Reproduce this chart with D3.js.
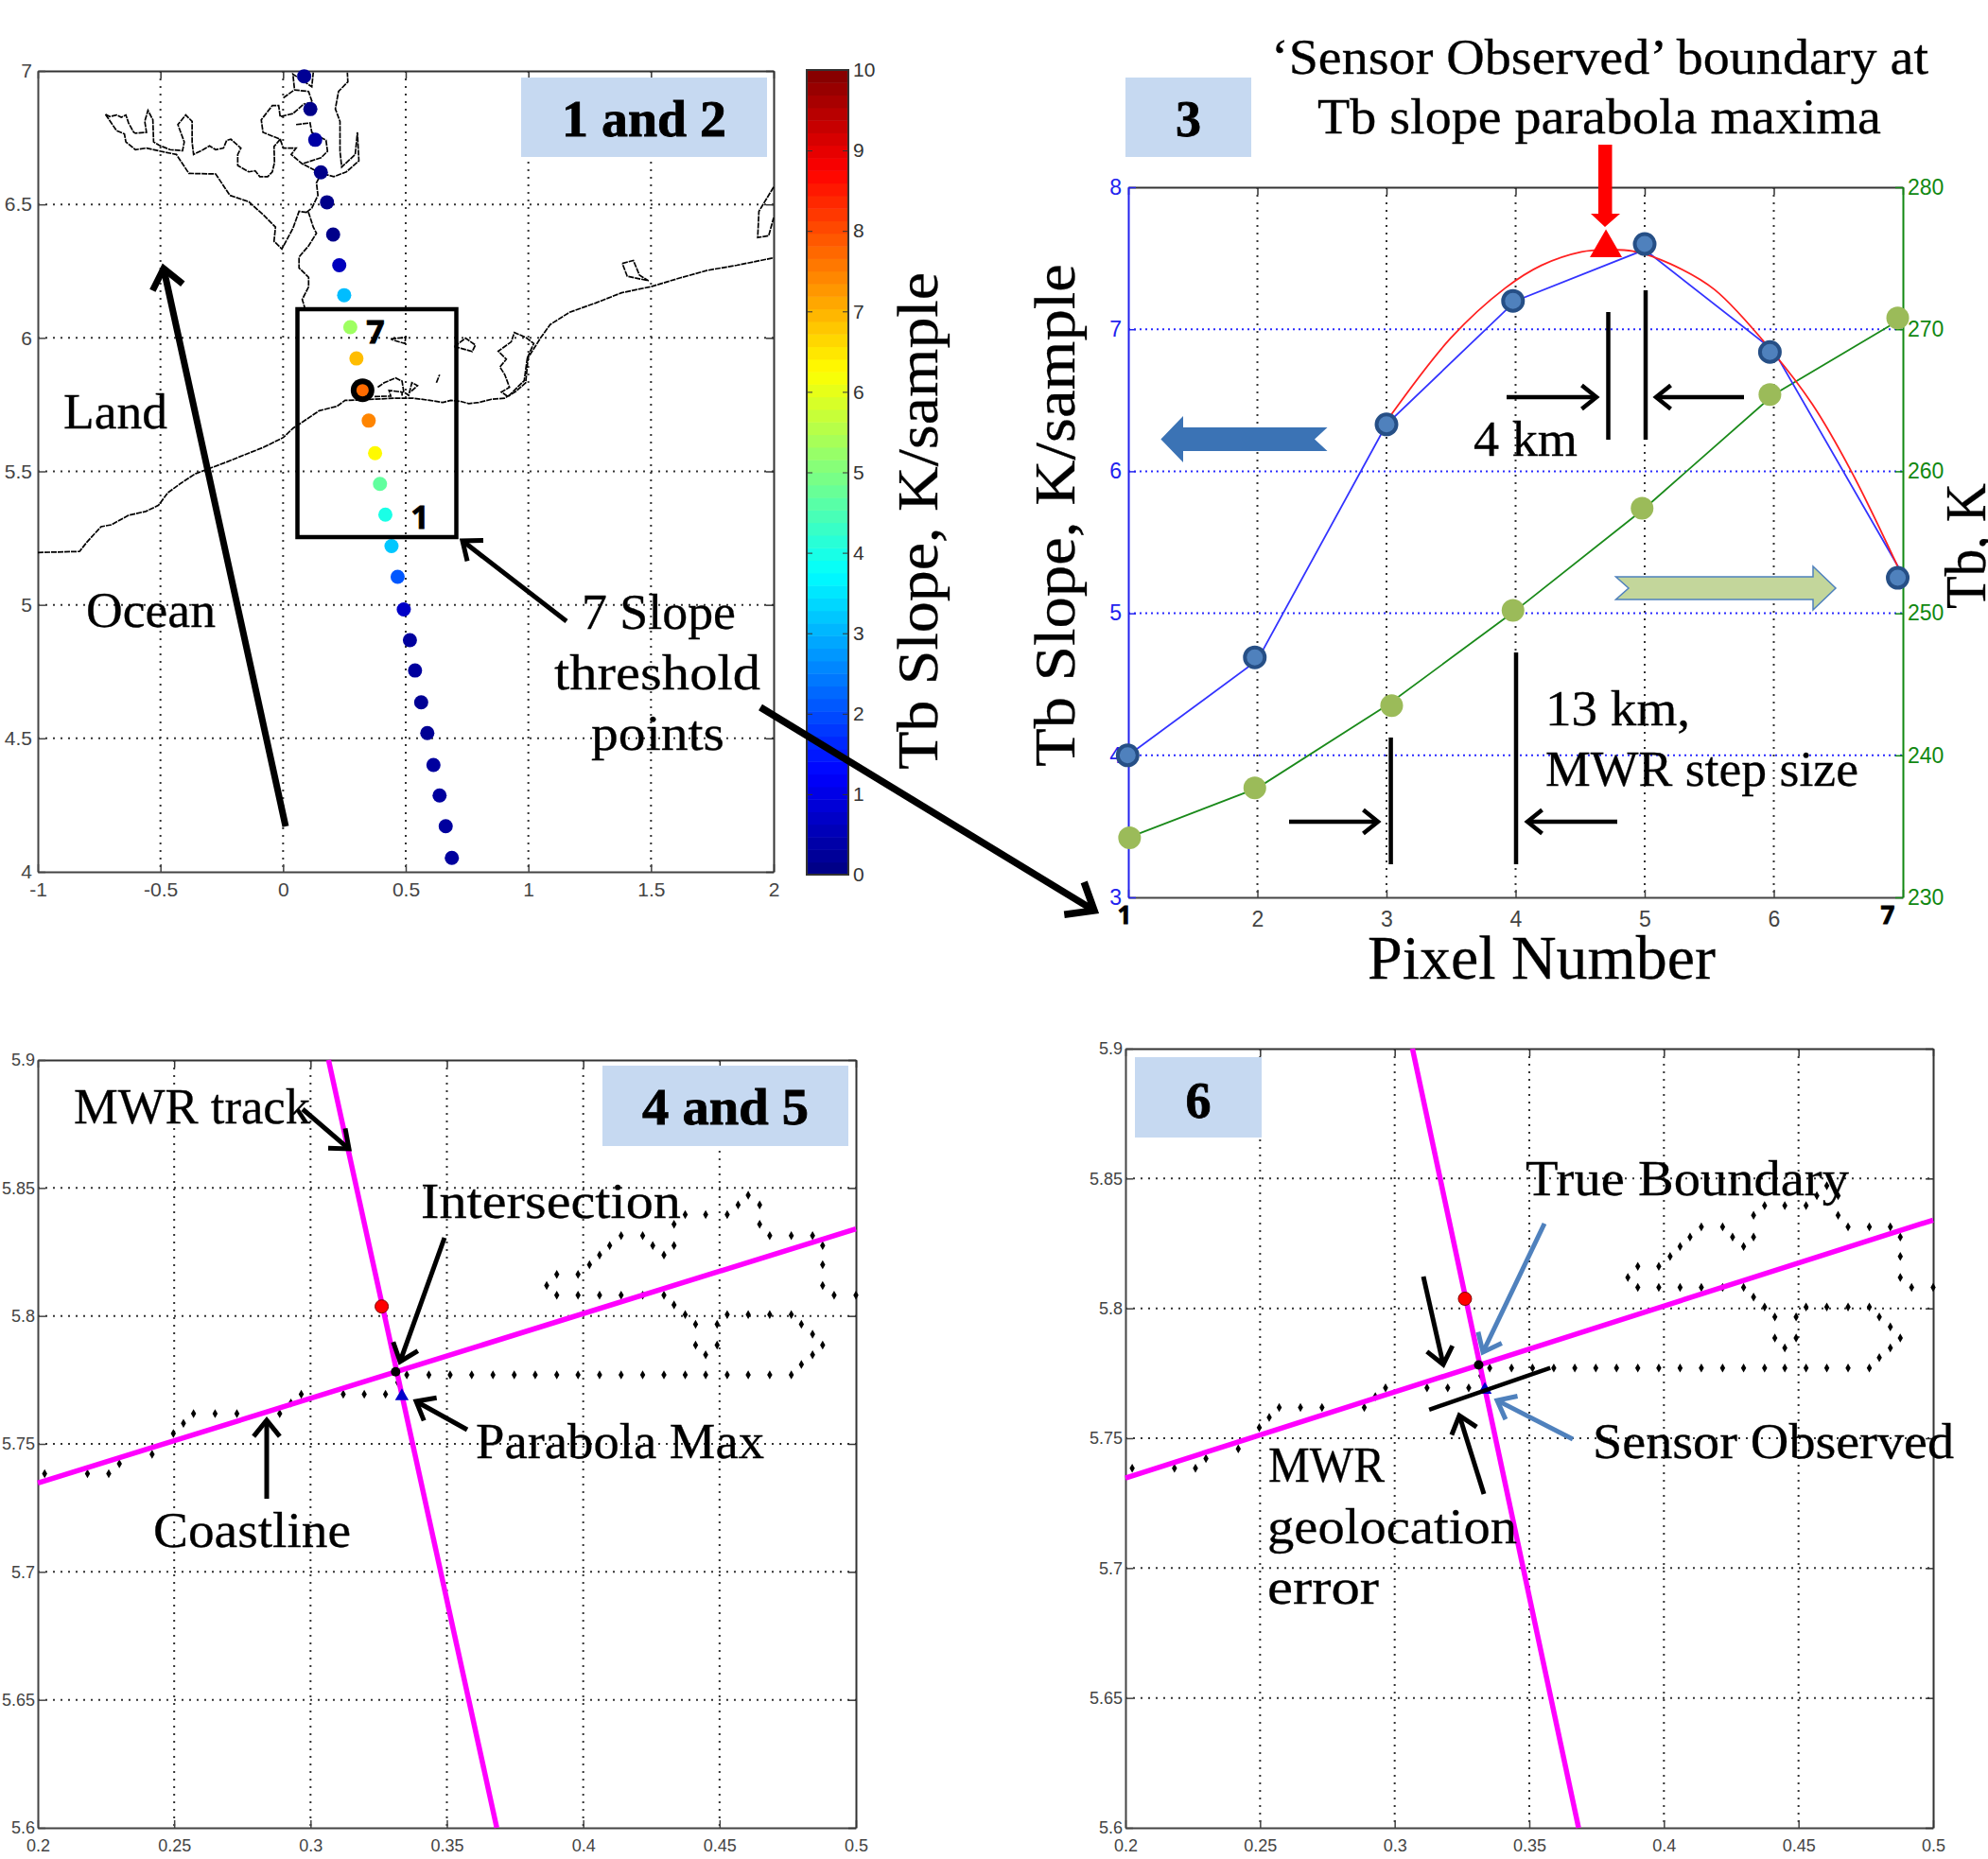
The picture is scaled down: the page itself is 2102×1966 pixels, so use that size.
<!DOCTYPE html>
<html>
<head>
<meta charset="utf-8">
<script src="https://cdn.jsdelivr.net/npm/d3@7"></script>
<style>
  body { margin: 0; background: #fff; overflow: hidden; }
  svg { display: block; }
  .tick text { font-family: "Liberation Sans", sans-serif; }
</style>
</head>
<body>
<svg id="chart" width="2102" height="1966"></svg>
<script>
// Panel 1: MWR track samples (lon, lat, Tb slope)
const trackLon = [0.086,0.111,0.131,0.154,0.179,0.204,0.229,0.249,0.274,0.299,0.324,0.349,0.375,0.395,0.417,0.442,0.467,0.492,0.517,0.538,0.563,0.588,0.613,0.638,0.663,0.688];
const trackLat = [6.98,6.857,6.742,6.62,6.508,6.387,6.272,6.16,6.04,5.923,5.804,5.69,5.568,5.453,5.338,5.22,5.105,4.983,4.868,4.754,4.635,4.52,4.40,4.286,4.171,4.052];
const trackSlope = [0.2,0.1,0.35,0.1,0.1,0.1,0.6,3.1,5.3,6.9,7.7,7.45,6.3,4.7,4.0,3.2,2.1,0.7,0.3,0.3,0.2,0.2,0.3,0.3,0.3,0.3];

// Panel 1: coastline, [lon, lat]
const mainCoast = [[-1,5.196],[-0.83,5.2],[-0.8,5.235],[-0.742,5.293],[-0.7,5.3],[-0.629,5.336],[-0.56,5.35],[-0.508,5.373],[-0.47,5.42],[-0.416,5.456],[-0.36,5.49],[-0.303,5.51],[-0.23,5.535],[-0.152,5.564],[-0.08,5.59],[0.001,5.627],[0.041,5.662],[0.081,5.686],[0.147,5.727],[0.22,5.744],[0.253,5.766],[0.32,5.768],[0.452,5.774],[0.532,5.774],[0.598,5.766],[0.651,5.758],[0.684,5.766],[0.724,5.762],[0.757,5.754],[0.797,5.758],[0.85,5.77],[0.903,5.774],[0.95,5.8],[0.989,5.832],[0.999,5.926],[1.05,6.0],[1.089,6.05],[1.168,6.096],[1.275,6.131],[1.38,6.169],[1.5,6.192],[1.62,6.225],[1.73,6.253],[1.85,6.272],[2,6.3]];
const lakeTop = [[-0.724,6.837],[-0.707,6.829],[-0.679,6.835],[-0.66,6.826],[-0.641,6.835],[-0.63,6.805],[-0.609,6.77],[-0.602,6.767],[-0.557,6.77],[-0.564,6.811],[-0.551,6.852],[-0.531,6.817],[-0.528,6.734],[-0.506,6.722],[-0.461,6.705],[-0.41,6.701],[-0.403,6.734],[-0.429,6.799],[-0.397,6.835],[-0.371,6.811],[-0.371,6.734],[-0.365,6.687],[-0.326,6.705],[-0.3,6.719],[-0.275,6.705],[-0.243,6.711],[-0.23,6.74],[-0.213,6.744],[-0.172,6.711],[-0.185,6.687],[-0.185,6.646],[-0.14,6.622],[-0.114,6.626],[-0.095,6.604],[-0.063,6.604],[-0.044,6.622],[-0.035,6.657],[-0.037,6.717],[-0.012,6.744],[-0.082,6.77],[-0.089,6.817],[-0.044,6.87],[-0.018,6.87],[-0.012,6.829],[0.04,6.84],[0.085,6.876]];
const lakeBottom = [[-0.724,6.837],[-0.679,6.776],[-0.647,6.764],[-0.641,6.734],[-0.602,6.705],[-0.557,6.711],[-0.499,6.699],[-0.435,6.687],[-0.384,6.616],[-0.275,6.614],[-0.217,6.534],[-0.14,6.51],[-0.076,6.457],[-0.031,6.415],[-0.037,6.362],[-0.005,6.333],[0.04,6.41],[0.065,6.474],[0.104,6.469],[0.123,6.415],[0.136,6.392],[0.104,6.345],[0.065,6.303],[0.065,6.262],[0.104,6.227],[0.104,6.191],[0.078,6.144],[0.088,6.114]];
const riverEast = [[0.095,6.47],[0.117,6.486],[0.142,6.534],[0.136,6.581],[0.155,6.616],[0.207,6.604],[0.258,6.622],[0.309,6.663],[0.303,6.77],[0.294,6.687],[0.239,6.64],[0.232,6.699],[0.232,6.811],[0.213,6.858],[0.226,6.923],[0.264,6.959],[0.262,6.994]];
const riverLoop1 = [[0.155,6.616],[0.078,6.652],[0.033,6.687],[0.053,6.711],[0.001,6.711],[-0.012,6.744]];
const riverLoop2 = [[0.053,6.799],[0.11,6.805],[0.117,6.77],[0.175,6.74],[0.181,6.699],[0.155,6.675],[0.078,6.652]];
const riverLoop3 = [[0.001,6.899],[0.046,6.929],[0.104,6.923],[0.119,6.882],[0.085,6.876]];
const riverLoop4 = [[0.046,6.935],[0.04,6.988],[0.117,6.941],[0.123,6.994]];
const lagoon1 = [[0.386,5.815],[0.412,5.832],[0.459,5.85],[0.485,5.838],[0.492,5.797],[0.512,5.785],[0.525,5.832],[0.548,5.821],[0.519,5.797]];
const lagoon2 = [[0.373,5.78],[0.439,5.782],[0.432,5.803],[0.485,5.797],[0.485,5.78]];
const islet1 = [[0.439,5.996],[0.5,6.002],[0.496,5.979],[0.452,5.991],[0.439,5.996]];
const islet2 = [[0.698,5.967],[0.744,5.999],[0.784,5.973],[0.771,5.949],[0.725,5.961],[0.698,5.967]];
const islet3 = [[0.625,5.832],[0.638,5.862]];
const bayLagoon = [[0.996,5.926],[1.022,5.979],[0.989,6.002],[0.943,6.02],[0.93,5.985],[0.877,5.95],[0.91,5.92],[0.884,5.891],[0.904,5.862],[0.923,5.815],[0.89,5.797],[0.917,5.78],[0.983,5.84],[0.996,5.926]];
const eastIsland = [[1.383,6.279],[1.428,6.29],[1.453,6.235],[1.49,6.214],[1.403,6.231],[1.383,6.279]];
const edgeIsland = [[2,6.565],[1.94,6.474],[1.935,6.376],[1.98,6.383],[2,6.45]];
const mapCoasts = [mainCoast, lakeTop, lakeBottom, riverEast, riverLoop1, riverLoop2, riverLoop3, riverLoop4, lagoon1, lagoon2, islet1, islet2, islet3, bayLagoon, eastIsland, edgeIsland];

const mapLonTicks = [-1,-0.5,0,0.5,1,1.5,2];
const mapLatTicks = [4,4.5,5,5.5,6,6.5,7];
const colorbarTicks = [0,1,2,3,4,5,6,7,8,9,10];

// Panel 3: slope and Tb per pixel
const pixelTicks = [1,2,3,4,5,6,7];
const pixelTickLabels = ["","2","3","4","5","6",""]; // 1 and 7 are the bold overlay labels
const slopeTicks = [3,4,5,6,7,8];
const tbTicks = [230,240,250,260,270,280];
const slopeLine = [4.0,4.67,6.33,7.2,7.56,6.85,5.27];
const slopeMarkX = [0.995,1.98,3,3.98,5,5.97,6.96];
const slopeMarkY = [4.0,4.69,6.33,7.2,7.6,6.84,5.25];
const tbLine = [234.2,237.7,243.5,250.2,257.4,265.4,270.8];
const tbMarkX = [1.01,1.98,3.04,3.98,4.98,5.97,6.96];
const parabolaX = [3.03,3.5,3.92,4.2,4.51,4.7,4.91,5.2,5.54,6,6.3,6.6,6.96];
const parabolaY = [6.39,6.94,7.29,7.45,7.545,7.56,7.55,7.46,7.28,6.83,6.47,6.0,5.33];
const parabolaMax = [4.7, 7.56];

// Panels 4 and 6: zoomed coastline points [lon, lat]
const coastDots = [[0.2025,5.7384],[0.2182,5.7384],[0.226,5.7384],[0.2299,5.7422],[0.2419,5.7459],[0.2497,5.7541],[0.2534,5.758],[0.2571,5.7618],[0.265,5.7618],[0.273,5.7618],[0.2887,5.7618],[0.2928,5.766],[0.2966,5.7694],[0.312,5.7694],[0.3197,5.7694],[0.3275,5.7694],[0.332,5.774],
  [0.3353,5.777],[0.3434,5.777],[0.3512,5.777],[0.3591,5.777],[0.3669,5.777],[0.3747,5.777],[0.3824,5.777],[0.3903,5.777],[0.3981,5.777],[0.406,5.777],[0.4139,5.777],[0.4218,5.777],[0.4296,5.777],[0.4374,5.777],[0.4449,5.777],[0.4528,5.777],[0.4605,5.777],[0.4684,5.777],[0.4763,5.777],
  [0.48,5.781],[0.4841,5.7848],[0.4878,5.7886],[0.4841,5.7929],[0.48,5.7967],[0.4763,5.8005],[0.4684,5.8005],[0.4605,5.8005],[0.4528,5.8005],[0.4491,5.7967],[0.4491,5.7886],[0.4449,5.7848],[0.4412,5.7886],[0.4412,5.7967],[0.4374,5.8005],[0.4333,5.8043],[0.4296,5.8081],[0.4218,5.8081],[0.4139,5.8081],[0.406,5.8081],[0.3981,5.8081],[0.3903,5.8081],[0.3866,5.8119],[0.3903,5.8162],[0.3981,5.8162],
  [0.4023,5.82],[0.406,5.8238],[0.4097,5.8275],[0.4139,5.8314],[0.4218,5.8314],[0.4255,5.8275],[0.4296,5.8238],[0.4333,5.8275],[0.4333,5.8358],[0.4374,5.8396],[0.4449,5.8396],[0.4528,5.8396],[0.4568,5.8434],[0.4605,5.8472],[0.4647,5.8434],[0.4647,5.8358],[0.4684,5.8314],[0.4763,5.8314],[0.4841,5.8314],[0.4878,5.8275],[0.4878,5.82],[0.4878,5.8119],[0.492,5.8081],[0.5,5.8081]];
const coastFit = [[0.2,5.7347],[0.5,5.834]];
const mwrTrack = [[0.3066,5.9],[0.3683,5.6]];
const redPoint = [0.3261,5.8037];
const intersectionPoint = [0.3312,5.7782];
const parabolaPoint = [0.3335,5.7686];
const geolocationLine = [[0.3128,5.761],[0.3578,5.7771]];
const zoomLonTicks = [0.2,0.25,0.3,0.35,0.4,0.45,0.5];
const zoomLatTicks = [5.6,5.65,5.7,5.75,5.8,5.85,5.9];

const svg = d3.select("#chart");
const serif = '"Liberation Serif", serif';
const boxBlue = "#c6d9f1";

// Matlab jet, 0 to 10
const jet = d3.scaleLinear()
    .domain([0, 1.25, 3.75, 6.25, 8.75, 10])
    .range(["#000080", "#0000ff", "#00ffff", "#ffff00", "#ff0000", "#800000"])
    .interpolate(d3.interpolateRgb);

// Boxed axes with dotted grid, the way Matlab draws them
function makeFrame(o) {
    const g = svg.append("g");
    const x = d3.scaleLinear().domain(o.xDomain).range([o.left, o.right]);
    const y = d3.scaleLinear().domain(o.yDomain).range([o.bottom, o.top]);
    const fontSize = o.fontSize || 18;

    // grid
    g.selectAll(".gx").data(o.xTicks.slice(1, -1)).enter().append("line")
        .attr("x1", d => x(d)).attr("x2", d => x(d))
        .attr("y1", o.top).attr("y2", o.bottom)
        .attr("stroke", "#333").attr("stroke-width", 2).attr("stroke-dasharray", "2 6");
    g.selectAll(".gy").data(o.yTicks.slice(1, -1)).enter().append("line")
        .attr("x1", o.left).attr("x2", o.right)
        .attr("y1", d => y(d)).attr("y2", d => y(d))
        .attr("stroke", o.gridY || "#333").attr("stroke-width", 2).attr("stroke-dasharray", o.gridY ? "2 4" : "2 6");

    // axes
    const styleAxis = (sel, color) => {
        sel.select(".domain").attr("stroke", color).attr("stroke-width", 2);
        sel.selectAll(".tick line").attr("stroke", color).attr("stroke-width", 1.5);
        sel.selectAll(".tick text").attr("fill", color).style("font-size", fontSize + "px");
    };
    const inner = 8;
    g.append("g").attr("transform", `translate(0,${o.bottom})`)
        .call(d3.axisBottom(x).tickValues(o.xTicks).tickSize(-inner).tickSizeOuter(0).tickPadding(o.xPad || 10)
            .tickFormat((d, i) => o.xLabels ? o.xLabels[i] : String(d)))
        .call(s => styleAxis(s, "#444"));
    g.append("g").attr("transform", `translate(0,${o.top})`)
        .call(d3.axisTop(x).tickValues(o.xTicks).tickSize(-inner).tickSizeOuter(0).tickFormat(""))
        .call(s => styleAxis(s, "#333"));
    g.append("g").attr("transform", `translate(${o.left},0)`)
        .call(d3.axisLeft(y).tickValues(o.yTicks).tickSize(-inner).tickSizeOuter(0).tickPadding(o.yPad || 5).tickFormat(String))
        .call(s => styleAxis(s, o.leftColor || "#444"));
    if (o.yRightDomain) {
        const yr = d3.scaleLinear().domain(o.yRightDomain).range([o.bottom, o.top]);
        g.append("g").attr("transform", `translate(${o.right},0)`)
            .call(d3.axisRight(yr).tickValues(o.yRightTicks).tickSize(-inner).tickSizeOuter(0).tickPadding(5).tickFormat(String))
            .call(s => styleAxis(s, o.rightColor));
    } else {
        g.append("g").attr("transform", `translate(${o.right},0)`)
            .call(d3.axisRight(y).tickValues(o.yTicks).tickSize(-inner).tickSizeOuter(0).tickFormat(""))
            .call(s => styleAxis(s, "#333"));
    }
    return {g, x, y};
}

// Text squeezed to the width it has in the picture
function label(txt, x, baseline, width, size, opts) {
    opts = opts || {};
    const t = svg.append("text")
        .attr("x", x).attr("y", baseline)
        .attr("font-family", opts.family || serif)
        .attr("font-size", size)
        .attr("font-weight", opts.weight || "normal")
        .attr("fill", "#000")
        .attr("stroke", "#000").attr("stroke-width", opts.weight ? 0.8 : 0.3)
        .text(txt);
    if (width) t.attr("textLength", width).attr("lengthAdjust", "spacingAndGlyphs");
    if (opts.anchor) t.attr("text-anchor", opts.anchor);
    return t;
}

function rotatedLabel(txt, baselineX, startY, width, size) {
    svg.append("text")
        .attr("transform", `translate(${baselineX},${startY}) rotate(-90)`)
        .attr("font-family", serif).attr("font-size", size).attr("fill", "#000")
        .attr("stroke", "#000").attr("stroke-width", 0.3)
        .attr("textLength", width).attr("lengthAdjust", "spacingAndGlyphs")
        .text(txt);
}

function numberBox(txt, x0, x1, y0, y1, textWidth, baseline) {
    svg.append("rect").attr("x", x0).attr("y", y0).attr("width", x1 - x0).attr("height", y1 - y0).attr("fill", boxBlue);
    label(txt, (x0 + x1) / 2 - textWidth / 2, baseline, textWidth, 54, {weight: "bold"});
}

// Straight arrow with an open chevron head
function arrow(x0, y0, x1, y1, width, head, color) {
    color = color || "#000";
    const a = Math.atan2(y1 - y0, x1 - x0);
    const spread = 0.68;
    const hx = d => x1 - head * Math.cos(a + d);
    const hy = d => y1 - head * Math.sin(a + d);
    const g = svg.append("g").attr("fill", "none").attr("stroke", color).attr("stroke-width", width);
    g.append("line").attr("x1", x0).attr("y1", y0)
        .attr("x2", x1 - Math.cos(a) * width * 0.6).attr("y2", y1 - Math.sin(a) * width * 0.6);
    g.append("path").attr("stroke-linejoin", "miter")
        .attr("d", `M${hx(spread)},${hy(spread)}L${x1},${y1}L${hx(-spread)},${hy(-spread)}`);
}

function vbar(x, y0, y1) {
    svg.append("line").attr("x1", x).attr("x2", x).attr("y1", y0).attr("y2", y1)
        .attr("stroke", "#000").attr("stroke-width", 4.5);
}

// ---- Panel 1: map ----
const map = makeFrame({left: 40, right: 818, top: 75, bottom: 922,
    xDomain: [-1, 2], yDomain: [4, 7], xTicks: mapLonTicks, yTicks: mapLatTicks, fontSize: 21, xPad: 11, yPad: 6});
const coastPath = d3.line().x(d => map.x(d[0])).y(d => map.y(d[1]));
map.g.selectAll(".coast").data(mapCoasts).enter().append("path")
    .attr("d", coastPath).attr("fill", "none")
    .attr("stroke", "#000").attr("stroke-width", 1.7).attr("stroke-dasharray", "6 1");
map.g.append("circle").attr("cx", map.x(trackLon[10])).attr("cy", map.y(trackLat[10]))
    .attr("r", 12.5).attr("fill", "#000");
map.g.selectAll(".sample").data(trackLon).enter().append("circle")
    .attr("cx", d => map.x(d))
    .attr("cy", (d, i) => map.y(trackLat[i]))
    .attr("r", (d, i) => i === 10 ? 6.5 : 7.5)
    .attr("fill", (d, i) => jet(trackSlope[i]));

// colorbar, 64 flat bands
const barX = 853, barW = 44;
const barScale = d3.scaleLinear().domain([0, 10]).range([925, 74]);
const barG = svg.append("g");
barG.selectAll("rect").data(d3.range(64)).enter().append("rect")
    .attr("x", barX).attr("width", barW)
    .attr("y", d => barScale((d + 1) * 10 / 64))
    .attr("height", d => barScale(d * 10 / 64) - barScale((d + 1) * 10 / 64) + 0.5)
    .attr("fill", d => jet((d + 0.5) * 10 / 64));
barG.append("rect").attr("x", barX).attr("y", 74).attr("width", barW).attr("height", 851)
    .attr("fill", "none").attr("stroke", "#333").attr("stroke-width", 2);
barG.append("g").attr("transform", `translate(${barX + barW},0)`)
    .call(d3.axisRight(barScale).tickValues(colorbarTicks).tickSize(-6).tickSizeOuter(0).tickPadding(5).tickFormat(String))
    .call(s => { s.select(".domain").remove();
        s.selectAll(".tick line").attr("stroke", "#333");
        s.selectAll(".tick text").attr("fill", "#333").style("font-size", "21px"); });
barG.append("g").attr("transform", `translate(${barX},0)`)
    .call(d3.axisLeft(barScale).tickValues(colorbarTicks).tickSize(-6).tickSizeOuter(0).tickFormat(""))
    .call(s => { s.select(".domain").remove(); s.selectAll(".tick line").attr("stroke", "#333"); });

numberBox("1 and 2", 551, 811, 82, 166, 174, 144);
svg.append("rect").attr("x", 314.5).attr("y", 327).attr("width", 168).attr("height", 241)
    .attr("fill", "none").attr("stroke", "#000").attr("stroke-width", 4.5);
label("7", 397, 363, null, 34, {family: '"Open Sans", sans-serif', weight: "bold", anchor: "middle"});
label("1", 444, 559, null, 34, {family: '"Open Sans", sans-serif', weight: "bold", anchor: "middle"});
label("Land", 67, 453, 110, 52);
label("Ocean", 91, 663, 137, 52);
label("7 Slope", 615, 665, 163, 52);
label("threshold", 586, 729, 218, 52);
label("points", 625, 793, 141, 52);
rotatedLabel("Tb Slope, K/sample", 991, 814, 526, 62);
arrow(302, 874, 173, 284, 7, 26);
arrow(599, 657, 489, 572, 5, 22);

// ---- Panel 3: slope and Tb ----
const tbChart = makeFrame({left: 1193, right: 2012, top: 198, bottom: 949,
    xDomain: [1, 7], yDomain: [3, 8], xTicks: pixelTicks, xLabels: pixelTickLabels, yTicks: slopeTicks,
    leftColor: "#2222ee", gridY: "#2a2aff", fontSize: 23, xPad: 15, yPad: 7,
    yRightDomain: [230, 280], yRightTicks: tbTicks, rightColor: "#118811"});
const px = tbChart.x, py = tbChart.y;
const yTb = d3.scaleLinear().domain([230, 280]).range([949, 198]);
const g3 = tbChart.g;
g3.append("path").datum(tbLine)
    .attr("d", d3.line().x((d, i) => px(pixelTicks[i])).y(d => yTb(d)))
    .attr("fill", "none").attr("stroke", "#1a8a1a").attr("stroke-width", 1.8);
g3.append("path").datum(slopeLine)
    .attr("d", d3.line().x((d, i) => px(pixelTicks[i])).y(d => py(d)))
    .attr("fill", "none").attr("stroke", "#3333ff").attr("stroke-width", 1.8);
g3.append("path").datum(parabolaX)
    .attr("d", d3.line().x(d => px(d)).y((d, i) => py(parabolaY[i])).curve(d3.curveCatmullRom))
    .attr("fill", "none").attr("stroke", "#ff2020").attr("stroke-width", 1.8);
g3.selectAll(".tbMark").data(tbMarkX).enter().append("circle")
    .attr("cx", d => px(d)).attr("cy", (d, i) => yTb(tbLine[i])).attr("r", 12).attr("fill", "#9bbb59");
g3.selectAll(".slopeMark").data(slopeMarkX).enter().append("circle")
    .attr("cx", d => px(d)).attr("cy", (d, i) => py(slopeMarkY[i])).attr("r", 10.5)
    .attr("fill", "#4f81bd").attr("stroke", "#264f86").attr("stroke-width", 4);
// marker at the parabola maximum
g3.append("path")
    .attr("transform", `translate(${px(parabolaMax[0])},${py(parabolaMax[1]) - 2})`)
    .attr("d", d3.symbol(d3.symbolTriangle, 500)).attr("fill", "#ff0000");
// red pointer from the title
svg.append("path").attr("fill", "#ff0000")
    .attr("d", "M1690,153H1704.5V226H1713L1697,240L1682,226H1690Z");

numberBox("3", 1190, 1323, 82, 166, 27, 144);
label("\u2018Sensor Observed\u2019 boundary at", 1344, 78, 695, 52);
label("Tb slope parabola maxima", 1393, 141, 596, 52);
rotatedLabel("Tb Slope, K/sample", 1136, 811, 532, 62);
rotatedLabel("Tb, K", 2099, 644, 133, 62);
label("Pixel Number", 1446, 1035, 368, 66);
label("4 km", 1558, 482, 110, 52);
label("13 km,", 1634, 767, 153, 52);
label("MWR step size", 1634, 831, 331, 52);
label("1", 1189, 977, null, 26, {family: '"Open Sans", sans-serif', weight: "bold", anchor: "middle"});
label("7", 1996, 977, null, 26, {family: '"Open Sans", sans-serif', weight: "bold", anchor: "middle"});

vbar(1700.5, 330, 465);
vbar(1740, 307, 465);
arrow(1593, 420, 1688, 420, 4.5, 20);
arrow(1844, 420, 1751, 420, 4.5, 20);
vbar(1470.6, 780, 914);
vbar(1603, 690, 914);
arrow(1363, 869, 1457, 869, 4.5, 20);
arrow(1710, 869, 1615, 869, 4.5, 20);

// block arrows: left is slope axis, right is Tb axis
svg.append("path").attr("fill", "#3b73b5")
    .attr("d", "M1227.4,464.6L1251,440V452H1403.5L1390,464.6L1403.5,477H1251V489Z");
svg.append("path").attr("fill", "#c3d69b").attr("stroke", "#4f81bd").attr("stroke-width", 1.5)
    .attr("d", "M1708.5,610H1917V599L1941,622L1917,645V634H1708.5L1722,622Z");

// long arrow from the box on the map to panel 3
arrow(804, 748, 1157, 963, 7.5, 32);

// ---- Panels 4 and 6: zoomed crossing ----
function zoomPanel(o) {
    const p = makeFrame({left: o.left, right: o.right, top: o.top, bottom: o.bottom,
        xDomain: [0.2, 0.5], yDomain: [5.6, 5.9], xTicks: zoomLonTicks, yTicks: zoomLatTicks, fontSize: 18, xPad: 12, yPad: 3});
    p.g.selectAll(".dot").data(coastDots).enter().append("path")
        .attr("transform", d => `translate(${p.x(d[0])},${p.y(d[1])})`)
        .attr("d", d3.symbol(d3.symbolDiamond, 26)).attr("fill", "#000");
    const seg = d3.line().x(d => p.x(d[0])).y(d => p.y(d[1]));
    p.g.selectAll(".mag").data([coastFit, mwrTrack]).enter().append("path")
        .attr("d", seg).attr("fill", "none").attr("stroke", "#ff00ff").attr("stroke-width", 5.5);
    p.g.append("circle").attr("cx", p.x(redPoint[0])).attr("cy", p.y(redPoint[1])).attr("r", 7)
        .attr("fill", "#ff0000").attr("stroke", "#800000").attr("stroke-width", 1);
    p.g.append("path")
        .attr("transform", `translate(${p.x(parabolaPoint[0])},${p.y(parabolaPoint[1])})`)
        .attr("d", d3.symbol(d3.symbolTriangle, 90)).attr("fill", "#0000cc");
    return p;
}

const p4 = zoomPanel({left: 40, right: 905, top: 1121, bottom: 1933});
p4.g.append("circle").attr("cx", p4.x(intersectionPoint[0])).attr("cy", p4.y(intersectionPoint[1])).attr("r", 5).attr("fill", "#000");

const p6 = zoomPanel({left: 1190, right: 2044, top: 1109, bottom: 1933});
p6.g.append("path").datum(geolocationLine)
    .attr("d", d3.line().x(d => p6.x(d[0])).y(d => p6.y(d[1])))
    .attr("stroke", "#000").attr("stroke-width", 4.5).attr("fill", "none");
p6.g.append("circle").attr("cx", p6.x(intersectionPoint[0])).attr("cy", p6.y(intersectionPoint[1])).attr("r", 5).attr("fill", "#000");

numberBox("4 and 5", 637, 897, 1127, 1212, 176, 1189);
label("MWR track", 78, 1188, 250, 52);
label("Intersection", 445, 1288, 275, 52);
label("Parabola Max", 503, 1542, 305, 52);
label("Coastline", 162, 1636, 209, 52);
arrow(320, 1173, 369, 1215, 5, 22);
arrow(470, 1309, 423, 1440, 5, 22);
arrow(494, 1512, 440, 1482, 5, 22);
arrow(282, 1585, 282, 1502, 5, 22);

numberBox("6", 1200, 1334, 1118, 1203, 27, 1182);
label("True Boundary", 1613, 1264, 342, 52);
label("Sensor Observed", 1684, 1542, 382, 52);
label("MWR", 1341, 1567, 123, 52);
label("geolocation", 1340, 1632, 264, 52);
label("error", 1340, 1696, 118, 52);
arrow(1633, 1294, 1568, 1430, 5, 22, "#4f81bd");
arrow(1663, 1522, 1583, 1481, 5, 22, "#4f81bd");
arrow(1505, 1350, 1526, 1443, 5, 22);
arrow(1569, 1580, 1543, 1497, 5, 22);
</script>
</body>
</html>
